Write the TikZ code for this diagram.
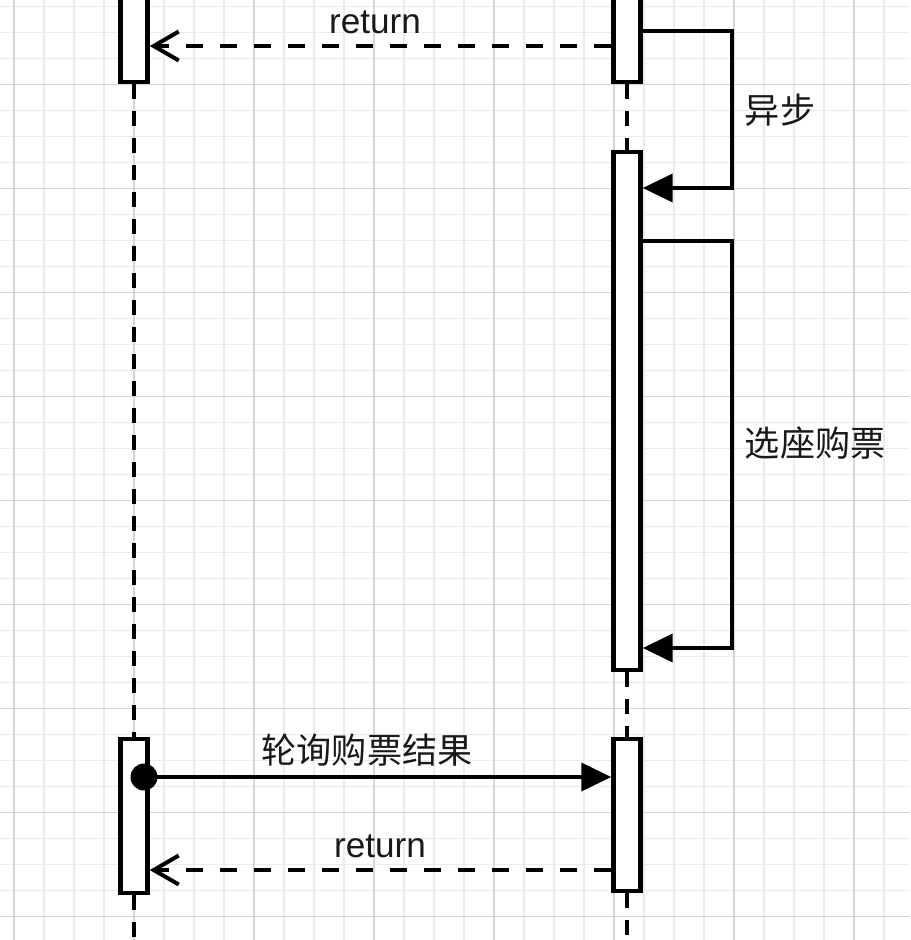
\documentclass[tikz,border=0pt]{standalone}
\usepackage{fontspec}
\setmainfont{Liberation Sans}
\newfontfamily\cjk{Noto Sans CJK SC}
\usetikzlibrary{arrows.meta,positioning,calc}

\tikzset{
    actbox/.style={draw=black, fill=white, line width=0.09cm, minimum width=0.54cm, inner sep=0pt},
    lifeline/.style={line width=0.08cm, dash pattern=on 0.3cm off 0.24cm},
    msg/.style={line width=0.08cm, -{Triangle[length=0.6cm,width=0.56cm]}},
    retmsg/.style={line width=0.08cm, dash pattern=on 0.34cm off 0.34cm, -{Straight Barb[length=0.5cm,width=0.58cm]}},
    lbl/.style={font=\fontsize{20pt}{24pt}\selectfont, text=black!90, inner sep=2pt},
    gridminor/.style={black!8, line width=0.6pt},
    gridmajor/.style={black!16, line width=0.8pt},
}

\begin{document}
\begin{tikzpicture}[x=0.02cm, y=-0.02cm]
    \useasboundingbox (0,0) rectangle (910,940);
    \clip (0,0) rectangle (910,940);

    % Background grid
    \foreach \i in {0,...,30} {
        \draw[gridminor] ({14+30*\i},0) -- ({14+30*\i},940);
    }
    \foreach \j in {0,...,36} {
        \draw[gridminor] (0,{6.7+26*\j}) -- (910,{6.7+26*\j});
    }
    \foreach \i in {0,...,7} {
        \draw[gridmajor] ({14+120*\i},0) -- ({14+120*\i},940);
    }
    \foreach \j in {0,...,8} {
        \draw[gridmajor] (0,{84.7+104*\j}) -- (910,{84.7+104*\j});
    }

    % Activation boxes
    \node[actbox, minimum height=2.0cm] (la1) at (134,32) {};
    \node[actbox, minimum height=2.0cm] (ra1) at (627,32) {};
    \node[actbox, minimum height=10.36cm] (ra2) at (627,411) {};
    \node[actbox, minimum height=3.08cm] (la2) at (134,816) {};
    \node[actbox, minimum height=3.04cm] (ra3) at (627,815) {};

    % Lifelines
    \coordinate (lend) at (134,945);
    \coordinate (rend) at (627,945);
    \draw[lifeline] (la1.south) -- (la2.north);
    \draw[lifeline] (la2.south) -- (lend);
    \draw[lifeline] (ra1.south) -- (ra2.north);
    \draw[lifeline] (ra2.south) -- (ra3.north);
    \draw[lifeline] (ra3.south) -- (rend);

    % Message levels
    \coordinate (ret1y) at (0,46);
    \coordinate (asyn1) at (0,31);
    \coordinate (asyn2) at (0,188);
    \coordinate (sel1) at (0,241);
    \coordinate (sel2) at (0,648);
    \coordinate (loopx) at (732,0);
    \coordinate (ret2y) at (0,870);

    % return
    \draw[retmsg] (ra1.west |- ret1y) -- (la1.east |- ret1y);
    \node[lbl] (ret1) at (375,22) {return};

    % self calls
    \draw[msg] (ra1.east |- asyn1) -| (loopx |- asyn2) -- (ra2.east |- asyn2);
    \node[lbl, anchor=west] (asyn) at (741,110) {\cjk 异步};
    \draw[msg] (ra2.east |- sel1) -| (loopx |- sel2) -- (ra2.east |- sel2);
    \node[lbl, anchor=west] (sel) at (741,443) {\cjk 选座购票};

    % polling
    \node[circle, fill=black, minimum size=0.54cm, inner sep=0pt] (pdot) at (144,777) {};
    \draw[msg] (pdot.center) -- (ra3.west |- pdot);
    \node[lbl] (poll) at (367,750) {\cjk 轮询购票结果};
    \draw[retmsg] (ra3.west |- ret2y) -- (la2.east |- ret2y);
    \node[lbl] (ret2) at (380,846) {return};
\end{tikzpicture}
\end{document}
